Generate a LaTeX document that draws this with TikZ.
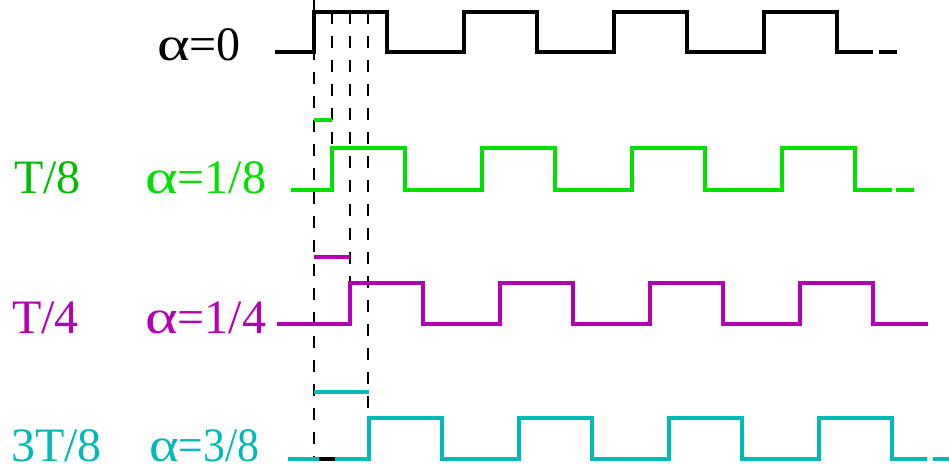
\documentclass[tikz,border=0pt]{standalone}
\usepackage{fontspec}
\setmainfont{Liberation Serif}
\usepackage{xcolor}
\usepackage{graphicx}
\usepackage{tikz}
\usetikzlibrary{positioning}

\definecolor{wgreen}{RGB}{0,225,0}
\definecolor{tgreen}{RGB}{0,190,0}
\definecolor{wmag}{RGB}{180,0,180}
\definecolor{wcyan}{RGB}{0,185,185}
\newcommand{\wal}{\scalebox{1.3}[1]{α}}

\begin{document}
\begin{tikzpicture}[
      x=1pt, y=-1pt,
      wave/.style={line width=3.2pt},
      guide/.style={black, line width=1.7pt, dash pattern=on 12pt off 12pt},
      lbl/.style={anchor=base west, inner sep=0pt, text depth=0pt, font=\fontsize{48}{50}\selectfont}
    ]
      \useasboundingbox (0,0) rectangle (949,464);

      % guide lines
      \draw[guide] (314,0) -- (314,459);
      \draw[guide] (332,12) -- (332,148);
      \draw[guide] (350,12) -- (350,283);
      \draw[guide] (368,12) -- (368,418);

      % shift markers
      \draw[wave, wgreen] (314,120) -- (332,120);
      \draw[wave, wmag] (314,257) -- (350,257);
      \draw[wave, wcyan] (314,392) -- (369,392);

      % alpha = 0
      \draw[wave, black] (275,52)
        \foreach \s in {314,464,614,764} {-- (\s,52) -- (\s,12) -- (\s+73,12) -- (\s+73,52)}
        -- (873,52);
      \draw[wave, black] (879,52) -- (897,52);

      % alpha = 1/8
      \draw[wave, wgreen] (291,190)
        \foreach \s in {332,482,632,782} {-- (\s,190) -- (\s,148) -- (\s+73,148) -- (\s+73,190)}
        -- (892,190);
      \draw[wave, wgreen] (896,190) -- (914,190);

      % alpha = 1/4
      \draw[wave, wmag] (277,324)
        \foreach \s in {350,500,650,800} {-- (\s,324) -- (\s,283) -- (\s+73,283) -- (\s+73,324)}
        -- (928,324);

      % alpha = 3/8
      \draw[wave, wcyan] (288,459)
        \foreach \s in {369,519,669,819} {-- (\s,459) -- (\s,418) -- (\s+73,418) -- (\s+73,459)}
        -- (927,459);
      \draw[wave, wcyan] (933,459) -- (949,459);
      \draw[wave, black] (319,459) -- (335,459);

      % labels
      \node[lbl, black] (a0) at (157,60) {\wal=0};
      \node[lbl, tgreen] (t1) at (14,193) {T/8};
      \node[lbl, wgreen] (a1) at (145,193) {\wal=1/8};
      \node[lbl, wmag] (t2) at (12,333) {T/4};
      \node[lbl, wmag] (a2) at (145,333) {\wal=1/4};
      \node[lbl, wcyan] (t3) at (11,461) {3T/8};
      \node[lbl, wcyan] (a3) at (149,461) {\scalebox{0.91}[1]{\wal=3/8}};
    \end{tikzpicture}
\end{document}
